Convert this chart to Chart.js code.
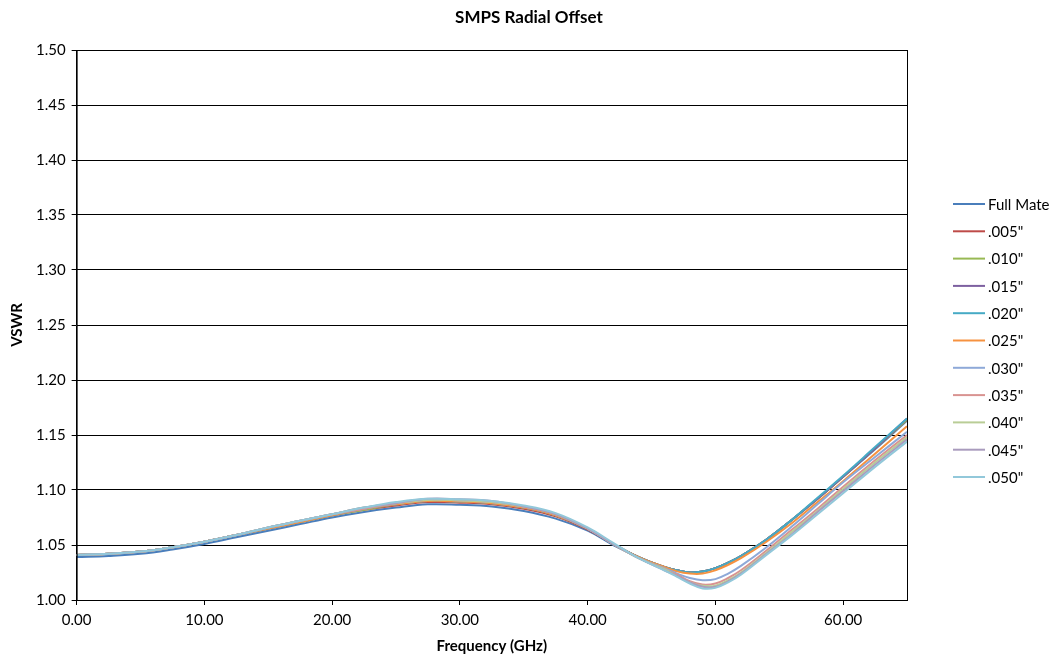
<!DOCTYPE html>
<html>
<head>
<meta charset="utf-8">
<script src="https://cdn.jsdelivr.net/npm/chart.js@4/dist/chart.umd.min.js"></script>
<style>
  html, body { margin: 0; padding: 0; background: #fff; }
  #wrap { width: 1058px; height: 658px; }
</style>
</head>
<body>
<div id="wrap"><canvas id="chart"></canvas></div>
<script>
// frequency points (GHz)
const freq = [0, 2.5, 5, 7.5, 10, 12.5, 15, 17.5, 20, 22.5, 25, 27.5, 30, 32.5, 35, 37.5, 40, 42, 44, 46, 47, 48, 49, 50, 51, 52, 54, 56, 58, 60, 62.5, 65];

// VSWR per offset
const fullMate = [1.039, 1.040, 1.042, 1.046, 1.051, 1.057, 1.063, 1.069, 1.075, 1.080, 1.084, 1.087, 1.0865, 1.085, 1.081, 1.074, 1.063, 1.050, 1.039, 1.030, 1.027, 1.025, 1.026, 1.029, 1.034, 1.040, 1.055, 1.073, 1.092, 1.112, 1.137, 1.163];
const off005 = [1.041, 1.042, 1.044, 1.048, 1.053, 1.059, 1.065, 1.071, 1.077, 1.082, 1.086, 1.089, 1.0885, 1.087, 1.083, 1.076, 1.064, 1.051, 1.039, 1.030, 1.027, 1.025, 1.026, 1.029, 1.034, 1.040, 1.055, 1.073, 1.092, 1.112, 1.138, 1.164];
const off010 = [1.041, 1.042, 1.044, 1.048, 1.053, 1.059, 1.065, 1.071, 1.077, 1.082, 1.087, 1.090, 1.0895, 1.088, 1.084, 1.077, 1.065, 1.051, 1.039, 1.030, 1.027, 1.025, 1.026, 1.029, 1.034, 1.040, 1.055, 1.073, 1.092, 1.112, 1.138, 1.164];
const off015 = [1.041, 1.042, 1.044, 1.048, 1.053, 1.059, 1.065, 1.071, 1.077, 1.083, 1.087, 1.090, 1.0895, 1.088, 1.084, 1.077, 1.065, 1.051, 1.039, 1.030, 1.027, 1.025, 1.026, 1.029, 1.034, 1.040, 1.055, 1.073, 1.092, 1.112, 1.138, 1.165];
const off020 = [1.041, 1.042, 1.044, 1.048, 1.053, 1.059, 1.065, 1.071, 1.077, 1.083, 1.087, 1.090, 1.0895, 1.088, 1.084, 1.077, 1.065, 1.051, 1.039, 1.030, 1.027, 1.025, 1.026, 1.029, 1.034, 1.040, 1.055, 1.073, 1.093, 1.113, 1.139, 1.165];
const off025 = [1.041, 1.042, 1.044, 1.048, 1.053, 1.059, 1.065, 1.071, 1.077, 1.083, 1.087, 1.090, 1.0895, 1.088, 1.084, 1.077, 1.065, 1.051, 1.039, 1.030, 1.026, 1.024, 1.024, 1.027, 1.032, 1.038, 1.053, 1.070, 1.089, 1.108, 1.133, 1.158];
const off030 = [1.041, 1.042, 1.044, 1.048, 1.053, 1.059, 1.066, 1.072, 1.078, 1.083, 1.088, 1.091, 1.0905, 1.089, 1.085, 1.078, 1.065, 1.051, 1.038, 1.029, 1.024, 1.020, 1.018, 1.019, 1.024, 1.031, 1.048, 1.067, 1.087, 1.107, 1.130, 1.153];
const off035 = [1.041, 1.042, 1.044, 1.048, 1.053, 1.059, 1.066, 1.072, 1.078, 1.083, 1.088, 1.091, 1.0905, 1.089, 1.085, 1.078, 1.065, 1.051, 1.038, 1.028, 1.023, 1.017, 1.014, 1.015, 1.020, 1.027, 1.045, 1.064, 1.083, 1.103, 1.127, 1.150];
const off040 = [1.041, 1.042, 1.044, 1.048, 1.053, 1.059, 1.066, 1.072, 1.078, 1.084, 1.088, 1.091, 1.0905, 1.089, 1.085, 1.078, 1.065, 1.051, 1.038, 1.028, 1.022, 1.016, 1.013, 1.013, 1.018, 1.025, 1.043, 1.062, 1.081, 1.101, 1.125, 1.148];
const off045 = [1.041, 1.042, 1.044, 1.048, 1.053, 1.059, 1.066, 1.072, 1.078, 1.084, 1.088, 1.092, 1.0915, 1.090, 1.085, 1.078, 1.065, 1.051, 1.038, 1.027, 1.022, 1.016, 1.012, 1.012, 1.017, 1.024, 1.042, 1.060, 1.080, 1.099, 1.123, 1.146];
const off050 = [1.041, 1.042, 1.044, 1.048, 1.053, 1.059, 1.066, 1.072, 1.078, 1.084, 1.089, 1.092, 1.0915, 1.090, 1.086, 1.079, 1.066, 1.052, 1.038, 1.027, 1.021, 1.015, 1.0105, 1.011, 1.016, 1.023, 1.041, 1.059, 1.078, 1.097, 1.121, 1.144];

const seriesNames = ['Full Mate', '.005"', '.010"', '.015"', '.020"', '.025"', '.030"', '.035"', '.040"', '.045"', '.050"'];
const seriesData = [fullMate, off005, off010, off015, off020, off025, off030, off035, off040, off045, off050];
const seriesColors = ['#4A7EBB', '#BE4B48', '#98B954', '#7D60A0', '#46AAC5', '#F69240', '#8EA9D8', '#D99391', '#B9CD96', '#A99BBD', '#92C8DA'];

const FONT = 'Lato, "Liberation Sans", sans-serif';

// title, box border and legend drawn by hand so they line up like the original
const decor = {
  id: 'decor',
  afterDraw(chart) {
    const { ctx, chartArea: a } = chart;
    ctx.save();
    ctx.strokeStyle = '#000';
    ctx.lineWidth = 1;
    ctx.strokeRect(a.left + 0.5, a.top + 0.5, a.right - a.left, a.bottom - a.top);

    ctx.fillStyle = '#000';
    ctx.font = 'bold 17px ' + FONT;
    ctx.textAlign = 'center';
    ctx.textBaseline = 'middle';
    ctx.fillText('SMPS Radial Offset', chart.width / 2, 18);

    ctx.font = '15px ' + FONT;
    ctx.textAlign = 'left';
    chart.data.datasets.forEach((ds, i) => {
      const y = 204 + i * 27.3;
      ctx.strokeStyle = ds.borderColor;
      ctx.lineWidth = 2;
      ctx.beginPath();
      ctx.moveTo(953, y);
      ctx.lineTo(985, y);
      ctx.stroke();
      ctx.fillStyle = '#000';
      ctx.fillText(ds.label, 988, y + 1);
    });
    ctx.restore();
  }
};

new Chart(document.getElementById('chart'), {
  type: 'line',
  data: {
    datasets: seriesNames.map((name, i) => ({
      label: name,
      data: freq.map((f, j) => ({ x: f, y: seriesData[i][j] })),
      borderColor: seriesColors[i],
      backgroundColor: seriesColors[i],
      borderWidth: 2,
      pointRadius: 0,
      fill: false,
      tension: 0.4,
      order: -i
    }))
  },
  options: {
    responsive: true,
    maintainAspectRatio: false,
    animation: false,
    layout: { padding: { top: 50, right: 151, left: 8, bottom: 3 } },
    plugins: {
      legend: { display: false },
      tooltip: { enabled: false },
      title: { display: false }
    },
    scales: {
      x: {
        type: 'linear',
        min: 0,
        max: 65,
        afterBuildTicks: s => { s.ticks = s.ticks.filter(t => t.value % 10 === 0); },
        ticks: {
          stepSize: 10,
          color: '#000',
          font: { family: FONT, size: 15 },
          padding: 6,
          maxRotation: 0,
          callback: v => Number(v).toFixed(2)
        },
        grid: { drawOnChartArea: false, color: '#000', tickLength: 5 },
        border: { color: '#000' },
        title: {
          display: true,
          text: 'Frequency (GHz)',
          color: '#000',
          font: { family: FONT, size: 15, weight: 'bold' },
          padding: { top: 2, bottom: 0 }
        }
      },
      y: {
        min: 1.0,
        max: 1.5,
        ticks: {
          stepSize: 0.05,
          color: '#000',
          font: { family: FONT, size: 15 },
          padding: 6,
          callback: v => Number(v).toFixed(2)
        },
        grid: { color: '#000', tickLength: 5 },
        border: { color: '#000' },
        title: {
          display: true,
          text: 'VSWR',
          color: '#000',
          font: { family: FONT, size: 15, weight: 'bold' },
          padding: { top: 0, bottom: 4 }
        }
      }
    }
  },
  plugins: [decor]
});
</script>
</body>
</html>
